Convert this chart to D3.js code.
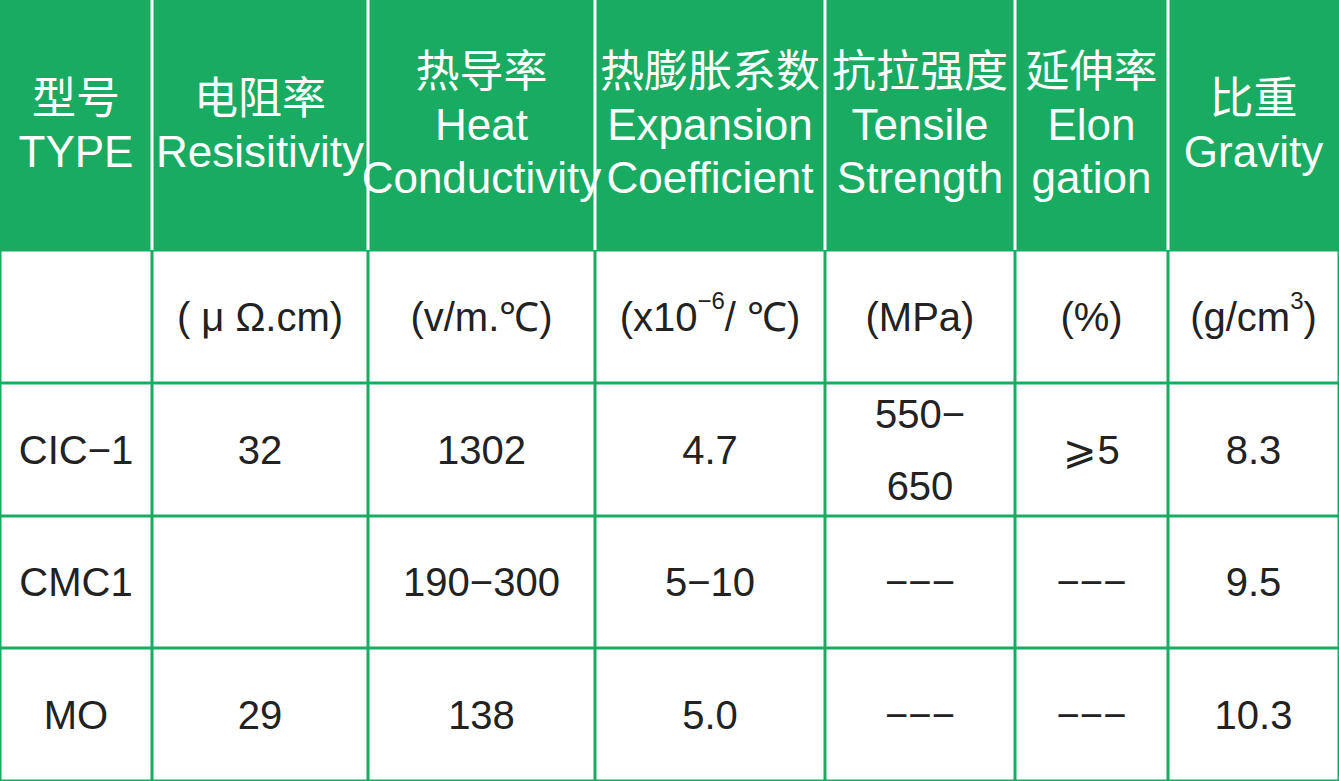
<!DOCTYPE html><html><head><meta charset="utf-8">
<script src="https://cdn.jsdelivr.net/npm/d3@7"></script>
<style>body{margin:0;background:#fff}</style></head><body><svg id="c" width="1339" height="781"></svg>
<script>
const colEdges=[0,152,368,595,825,1015,1168,1339];
const rowEdges=[0,250,383,516,648,781];
const headers=[["型号","TYPE"],["电阻率","Resisitivity"],["热导率","Heat","Conductivity"],["热膨胀系数","Expansion","Coefficient"],["抗拉强度","Tensile","Strength"],["延伸率","Elon","gation"],["比重","Gravity"]];
const units=["","( μ Ω.cm)","(v/m.℃)","(x10^-6/ ℃)","(MPa)","(%)","(g/cm^3)"];
const types=["CIC−1","CMC1","MO"];
const resistivity=["32","","29"];
const heatCond=["1302","190−300","138"];
const expansion=["4.7","5−10","5.0"];
const tensile=["550−\n650","−−−","−−−"];
const elongation=["⩾5","−−−","−−−"];
const gravity=["8.3","9.5","10.3"];
const green="#1aab63";
const svg=d3.select("#c");
svg.append("rect").attr("x",0).attr("y",0).attr("width",1339).attr("height",250).attr("fill",green);
const x=i=>(colEdges[i]+colEdges[i+1])/2, y=i=>(rowEdges[i]+rowEdges[i+1])/2;
// grid
colEdges.forEach(c=>svg.append("line").attr("x1",c).attr("x2",c).attr("y1",0).attr("y2",781).attr("stroke",c<250?green:green).attr("stroke-width",3));
rowEdges.forEach(r=>svg.append("line").attr("x1",0).attr("x2",1339).attr("y1",r).attr("y2",r).attr("stroke",green).attr("stroke-width",3));
colEdges.slice(1,-1).forEach(c=>svg.append("line").attr("x1",c).attr("x2",c).attr("y1",0).attr("y2",250).attr("stroke","#fff").attr("stroke-width",3));
const font="'Liberation Sans Narrow','Liberation Sans','Noto Sans CJK SC',sans-serif";
headers.forEach((h,i)=>{
  const lh=53, y0=125-(h.length-1)*lh/2;
  h.forEach((t,k)=>svg.append("text").attr("x",x(i)).attr("y",y0+k*lh).attr("dy","0.35em").attr("text-anchor","middle")
    .attr("fill","#fff").attr("font-size",44).attr("font-family",font).text(t));
});
const bfont="'Liberation Sans',Arial,sans-serif";
function cell(t,cx,cy){
  const lines=t.split("\n"), lh=72;
  lines.forEach((l,k)=>{
    const el=svg.append("text").attr("x",cx).attr("y",cy-(lines.length-1)*lh/2+k*lh).attr("dy","0.35em")
      .attr("text-anchor","middle").attr("font-size",40).attr("font-family",bfont).attr("fill","#222");
    const m=l.match(/^(.*)\^(-?\d+)(.*)$/);
    if(m){el.append("tspan").text(m[1]);el.append("tspan").attr("font-size",24).attr("dy","-0.9em").text(m[2].replace("-","−"));
      el.append("tspan").attr("dy","0.55em").text(m[3]);}
    else el.text(l);
  });
}
units.forEach((u,i)=>cell(u,x(i),y(1)));
const cols=[types,resistivity,heatCond,expansion,tensile,elongation,gravity];
cols.forEach((arr,i)=>arr.forEach((v,r)=>cell(v,x(i),y(r+2))));
</script></body></html>
